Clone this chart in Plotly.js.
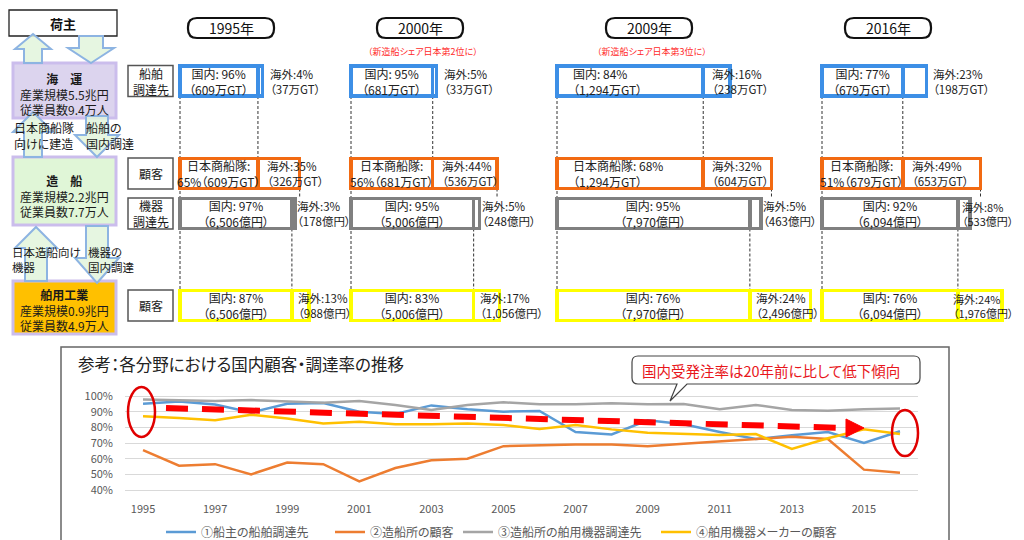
<!DOCTYPE html>
<html><head><meta charset="utf-8">
<script src="https://cdn.plot.ly/plotly-3.0.1.min.js"></script>
<style>html,body{margin:0;padding:0;background:#fff}#chart{width:1024px;height:540px}
svg text{font-feature-settings:"palt" 1;}</style>
</head><body><div id="chart"></div>
<script>
// ================= DATA =================
const yearLabels = ['1995年', '2000年', '2009年', '2016年'];
const shareNotes = ['', '（新造船シェア日本第2位に）', '（新造船シェア日本第3位に）', ''];
const rowLabels = ['船舶<br>調達先', '顧客', '機器<br>調達先', '顧客'];

// 船主の船舶調達先 (万GT)
const shipProcDomGT = [609, 681, 1294, 679];
const shipProcOvsGT = [37, 33, 238, 198];
const shipProcDomPct = [96, 95, 84, 77];
const shipProcOvsPct = [4, 5, 16, 23];
// 造船所の顧客 (万GT)
const yardCustDomGT = [609, 681, 1294, 679];
const yardCustOvsGT = [326, 536, 604, 653];
const yardCustDomPct = [65, 56, 68, 51];
const yardCustOvsPct = [35, 44, 32, 49];
// 造船所の舶用機器調達先 (億円)
const equipProcDomOku = [6506, 5006, 7970, 6094];
const equipProcOvsOku = [178, 248, 463, 533];
const equipProcDomPct = [97, 95, 95, 92];
const equipProcOvsPct = [3, 5, 5, 8];
// 舶用機器メーカーの顧客 (億円)
const makerCustDomOku = [6506, 5006, 7970, 6094];
const makerCustOvsOku = [988, 1056, 2496, 1976];
const makerCustDomPct = [87, 83, 76, 76];
const makerCustOvsPct = [13, 17, 24, 24];

// 左側の業界
const sectorNames = ['海　運', '造　船', '舶用工業'];
const sectorScale = ['産業規模5.5兆円', '産業規模2.2兆円', '産業規模0.9兆円'];
const sectorStaff = ['従業員数9.4万人', '従業員数7.7万人', '従業員数4.9万人'];

// 参考：推移グラフ
const trendYears = [1995, 1996, 1997, 1998, 1999, 2000, 2001, 2002, 2003, 2004, 2005, 2006, 2007, 2008, 2009, 2010, 2011, 2012, 2013, 2014, 2015, 2016];
const seriesNames = ['①船主の船舶調達先', '②造船所の顧客', '③造船所の舶用機器調達先', '④舶用機器メーカーの顧客'];
const ownerShipProc = [95, 96.5, 94.5, 89.5, 95, 95.5, 90, 88.5, 94, 91.5, 90, 90.5, 77, 75.5, 84.5, 82, 77, 72.5, 75, 77, 70, 77.5];
const yardCustomer = [65.5, 55.5, 56.5, 50, 57.5, 56.5, 45.5, 54, 59, 60, 68, 68.5, 69, 69, 68, 69.5, 71, 72.5, 74, 72.5, 53, 51];
const yardEquipProc = [97.8, 97.4, 96.8, 97.4, 96.4, 95.7, 96.8, 94.3, 91, 94.3, 96, 94.7, 94.7, 95.3, 94.7, 94.9, 91.5, 94.3, 91.1, 90.6, 91.5, 92];
const makerCustomer = [87, 86, 84.5, 88, 85.7, 82.5, 83.5, 82, 82, 82.5, 81.5, 79, 81.5, 78.7, 76.6, 75.7, 75.1, 75.7, 66.2, 73, 78.7, 75.7];
const yTicks = [40, 50, 60, 70, 80, 90, 100];
const xTicks = [1995, 1997, 1999, 2001, 2003, 2005, 2007, 2009, 2011, 2013, 2015];
const calloutText = '国内受発注率は20年前に比して低下傾向';
const chartTitle = '参考：各分野における国内顧客・調達率の推移';

// ================= LAYOUT CONFIG =================
const W = 1024, H = 540;
const px = v => v / W, py = v => 1 - v / H;
const FONT = '"Noto Sans CJK JP", "Noto Sans", sans-serif';
const colX0 = [180, 351, 557, 822];                // column left edges (px)
const gtScale = [0.128, 0.12, 0.113, 0.119];       // px per 万GT
const okuScale = [0.0172, 0.0245, 0.0242, 0.0223]; // px per 億円
const rowY = [81, 173.5, 213.5, 305.5];            // row centres (px)
const rowH = 30;
const rowColors = ['#3d8fe6', '#f26a12', '#808080', '#ffff00'];
const headerCX = [231, 420, 649, 888];
const lineColors = ['#5b9bd5', '#ed7d31', '#a5a5a5', '#ffc000'];
const legendTextX = [203, 372, 500, 698];
const rightLimit = 1015;

const fmt = n => n.toLocaleString('en-US');
function P(x, y) { return px(x).toFixed(5) + ',' + py(y).toFixed(5); }
function polyPath(pts) { return 'M' + pts.map(p => P(p[0], p[1])).join('L') + 'Z'; }
function roundRectPath(x0, y0, x1, y1, r) {
  return 'M' + P(x0 + r, y0) + 'L' + P(x1 - r, y0) + 'Q' + P(x1, y0) + ' ' + P(x1, y0 + r) +
    'L' + P(x1, y1 - r) + 'Q' + P(x1, y1) + ' ' + P(x1 - r, y1) +
    'L' + P(x0 + r, y1) + 'Q' + P(x0, y1) + ' ' + P(x0, y1 - r) +
    'L' + P(x0, y0 + r) + 'Q' + P(x0, y0) + ' ' + P(x0 + r, y0) + 'Z';
}
function upArrow(cx, top, bottom, hw, sw, hh) {
  return polyPath([[cx, top], [cx + hw / 2, top + hh], [cx + sw / 2, top + hh], [cx + sw / 2, bottom], [cx - sw / 2, bottom], [cx - sw / 2, top + hh], [cx - hw / 2, top + hh]]);
}
function downArrow(cx, top, bottom, hw, sw, hh) {
  return polyPath([[cx, bottom], [cx + hw / 2, bottom - hh], [cx + sw / 2, bottom - hh], [cx + sw / 2, top], [cx - sw / 2, top], [cx - sw / 2, bottom - hh], [cx - hw / 2, bottom - hh]]);
}

const traces = [];
const shapes = [];
const annotations = [];
const layout = {
  width: W, height: H, margin: {l: 0, r: 0, t: 0, b: 0, autoexpand: false},
  paper_bgcolor: '#ffffff', plot_bgcolor: 'rgba(0,0,0,0)',
  font: {family: FONT, size: 12, color: '#222'},
  barmode: 'stack', showlegend: true,
  yaxis2: {domain: [0, 1], range: [H, 0], visible: false, anchor: 'x2', fixedrange: true},
};
function txt(x, y, text, opt) {
  annotations.push(Object.assign({xref: 'paper', yref: 'paper', x: px(x), y: py(y), text: text, showarrow: false,
    xanchor: 'center', yanchor: 'middle', font: {family: FONT, size: 12, color: '#1a1a1a'}}, opt || {}));
}

// ---------- Left panel ----------
shapes.push({type: 'rect', xref: 'paper', yref: 'paper', x0: px(9), x1: px(117), y0: py(10), y1: py(36), line: {color: '#222', width: 1.3}, fillcolor: '#fff'});
const sectorBoxes = [[63, 118, '#dcd4ee'], [157, 225, '#e0f6d7'], [281, 334, '#ffc000']];
sectorBoxes.forEach((b, i) => {
  shapes.push({type: 'rect', xref: 'paper', yref: 'paper', x0: px(13), x1: px(116), y0: py(b[0]), y1: py(b[1]), line: {color: '#cbbdec', width: 3}, fillcolor: b[2]});
});
const arrowStyle = {type: 'path', xref: 'paper', yref: 'paper', fillcolor: 'rgba(226,245,220,0.85)', line: {color: '#8db4e2', width: 2}};
[upArrow(33, 34, 63, 36, 18, 15), downArrow(91, 36, 63, 46, 24, 15),
 upArrow(33, 112, 157, 40, 18, 20), downArrow(97, 116, 157, 44, 22, 22),
 upArrow(36, 227, 281, 42, 22, 21), downArrow(97, 226, 283, 44, 22, 25)].forEach(p => shapes.push(Object.assign({path: p}, arrowStyle)));

txt(63, 23, '<b>荷主</b>', {font: {family: FONT, size: 13, color: '#111'}});
const sectorMidY = [94, 196, 310];
sectorNames.forEach((n, i) => {
  txt(64, sectorMidY[i], '<b>' + n + '</b><br>' + sectorScale[i] + '<br>' + sectorStaff[i]);
});
txt(12, 136, '日本商船隊<br>向けに建造', {xanchor: 'left', align: 'left'});
txt(84, 136, '船舶の<br>国内調達', {xanchor: 'left', align: 'left'});
txt(10, 260, '日本造船向け<br>機器', {xanchor: 'left', align: 'left', font: {family: FONT, size: 11.5, color: '#1a1a1a'}});
txt(86, 260, '機器の<br>国内調達', {xanchor: 'left', align: 'left', font: {family: FONT, size: 11.5, color: '#1a1a1a'}});

// ---------- Row label boxes ----------
rowLabels.forEach((lab, r) => {
  shapes.push({type: 'rect', xref: 'paper', yref: 'paper', x0: px(128), x1: px(173), y0: py(rowY[r] - 15.5), y1: py(rowY[r] + 15.5), line: {color: '#555', width: 1.5}, fillcolor: '#fff'});
  txt(150.5, rowY[r], lab, {font: {family: FONT, size: 12, color: '#1a1a1a'}});
});

// ---------- Year columns ----------
yearLabels.forEach((yl, i) => {
  shapes.push({type: 'path', xref: 'paper', yref: 'paper', path: roundRectPath(headerCX[i] - 43, 18, headerCX[i] + 43, 38, 9), line: {color: '#111', width: 2.2}, fillcolor: '#fff'});
  txt(headerCX[i], 28, yl, {font: {family: FONT, size: 14, color: '#111'}});
  if (shareNotes[i]) txt(headerCX[i] + 3, 51, shareNotes[i], {font: {family: FONT, size: 9, color: '#ff2a2a'}});

  const gtAx = 'x' + (2 + i), okuAx = 'x' + (6 + i);
  const x0 = colX0[i];
  const left = x0 - 6, right = Math.min(x0 + 280, W - 1);
  layout['xaxis' + (2 + i)] = {domain: [px(left), px(right)], range: [(left - x0) / gtScale[i], (right - x0) / gtScale[i]], anchor: 'y2', visible: false, fixedrange: true};
  layout['xaxis' + (6 + i)] = {domain: [px(left), px(right)], range: [(left - x0) / okuScale[i], (right - x0) / okuScale[i]], anchor: 'y2', visible: false, fixedrange: true};

  const barBase = {type: 'bar', orientation: 'h', yaxis: 'y2', showlegend: false, hoverinfo: 'skip', width: [rowH, rowH]};
  traces.push(Object.assign({}, barBase, {xaxis: gtAx, x: [shipProcDomGT[i], yardCustDomGT[i]], y: [rowY[0], rowY[1]],
    marker: {color: '#fff', line: {color: [rowColors[0], rowColors[1]], width: 3.5}}}));
  traces.push(Object.assign({}, barBase, {xaxis: gtAx, x: [shipProcOvsGT[i], yardCustOvsGT[i]], y: [rowY[0], rowY[1]],
    marker: {color: '#fff', line: {color: [rowColors[0], rowColors[1]], width: 3.5}}}));
  traces.push(Object.assign({}, barBase, {xaxis: okuAx, x: [equipProcDomOku[i], makerCustDomOku[i]], y: [rowY[2], rowY[3]],
    marker: {color: '#fff', line: {color: [rowColors[2], rowColors[3]], width: 3.5}}}));
  traces.push(Object.assign({}, barBase, {xaxis: okuAx, x: [equipProcOvsOku[i], makerCustOvsOku[i]], y: [rowY[2], rowY[3]],
    marker: {color: '#fff', line: {color: [rowColors[2], rowColors[3]], width: 3.5}}}));

  // dashed connectors
  const dash = {type: 'line', yref: 'y2', line: {color: '#333', width: 1, dash: '3px,2px'}, layer: 'below'};
  shapes.push(Object.assign({xref: gtAx, x0: 0, x1: 0, y0: rowY[0] + 15, y1: rowY[3] - 15}, dash));
  shapes.push(Object.assign({xref: gtAx, x0: shipProcDomGT[i], x1: yardCustDomGT[i], y0: rowY[0] + 15, y1: rowY[1] - 15}, dash));
  shapes.push(Object.assign({xref: gtAx, x0: yardCustDomGT[i] + yardCustOvsGT[i], x1: yardCustDomGT[i] + yardCustOvsGT[i], y0: rowY[1] + 15, y1: rowY[2] - 15}, dash));
  shapes.push(Object.assign({xref: okuAx, x0: equipProcDomOku[i], x1: makerCustDomOku[i], y0: rowY[2] + 15, y1: rowY[3] - 15}, dash));

  // labels
  const rows = [
    {ax: gtAx, s: gtScale[i], dom: shipProcDomGT[i], ovs: shipProcOvsGT[i], dp: shipProcDomPct[i], op: shipProcOvsPct[i], unit: '万GT', kind: 'dom'},
    {ax: gtAx, s: gtScale[i], dom: yardCustDomGT[i], ovs: yardCustOvsGT[i], dp: yardCustDomPct[i], op: yardCustOvsPct[i], unit: '万GT', kind: 'fleet'},
    {ax: okuAx, s: okuScale[i], dom: equipProcDomOku[i], ovs: equipProcOvsOku[i], dp: equipProcDomPct[i], op: equipProcOvsPct[i], unit: '億円', kind: 'dom'},
    {ax: okuAx, s: okuScale[i], dom: makerCustDomOku[i], ovs: makerCustOvsOku[i], dp: makerCustDomPct[i], op: makerCustOvsPct[i], unit: '億円', kind: 'dom'},
  ];
  const afterShift = [5, 0, 0, 0];
  const divShift = [7, 7, 6, 4];
  rows.forEach((r, k) => {
    const domW = r.dom * r.s, ovsW = r.ovs * r.s;
    const wide = k < 2 && domW > 120;
    let dtext;
    if (r.kind === 'fleet') {
      dtext = wide ? '日本商船隊: ' + r.dp + '%<br>（' + fmt(r.dom) + r.unit + '）'
                   : '日本商船隊:<br>' + r.dp + '%（' + fmt(r.dom) + r.unit + '）';
    } else {
      dtext = '国内: ' + r.dp + '%<br>（' + fmt(r.dom) + r.unit + '）';
    }
    annotations.push({xref: r.ax, yref: 'y2', x: wide ? 0 : r.dom / 2, y: rowY[k], xshift: wide ? 14 : 0,
      xanchor: wide ? 'left' : 'center', align: wide ? 'left' : 'center', yanchor: 'middle', text: dtext, showarrow: false,
      font: {family: FONT, size: 12, color: '#222'}});
    const ovText = '海外:' + r.op + '%<br>（' + fmt(r.ovs) + r.unit + '）';
    const after = (k === 0 || k === 2) && ovsW < 26;
    const startPx = x0 + (after ? domW + ovsW + afterShift[k] : domW + divShift[k]);
    if (k >= 2 && startPx + 58 > rightLimit) {
      // keep the label inside the picture: right-align it near the edge
      annotations.push({xref: 'paper', yref: 'y2', x: px(rightLimit), y: rowY[k], xanchor: 'right', align: 'left', yanchor: 'middle',
        text: ovText, showarrow: false, font: {family: FONT, size: 11, color: '#222'}});
    } else {
      annotations.push({xref: r.ax, yref: 'y2', x: after ? r.dom + r.ovs : r.dom, y: rowY[k], xshift: after ? afterShift[k] : divShift[k],
        xanchor: 'left', align: 'left', yanchor: 'middle', text: ovText, showarrow: false, font: {family: FONT, size: 11.5, color: '#222'}});
    }
  });
});

// ---------- Bottom chart ----------
shapes.push({type: 'rect', xref: 'paper', yref: 'paper', x0: px(61), x1: px(949), y0: py(347), y1: py(542), line: {color: '#666', width: 1.5}, fillcolor: 'rgba(0,0,0,0)', layer: 'below'});
txt(76, 364, chartTitle, {xanchor: 'left', font: {family: FONT, size: 16.5, color: '#222'}});

layout.xaxis = {domain: [px(125), px(918)], range: [1994.5, 2016.5], anchor: 'y', tickmode: 'array', tickvals: xTicks,
  ticktext: xTicks.map(String), showgrid: false, zeroline: false, showline: false, ticks: '', ticklabelstandoff: 9,
  tickfont: {family: FONT, size: 11, color: '#595959'}, fixedrange: true};
const pxPerPct = 94 / 60;
layout.yaxis = {domain: [py(490 + pxPerPct), py(396 - pxPerPct)], range: [39, 101], anchor: 'x', tickmode: 'array', tickvals: yTicks,
  ticktext: yTicks.map(v => v + '%'), showgrid: true, gridcolor: '#d9d9d9', gridwidth: 1, zeroline: false, showline: false, ticks: '',
  ticklabelstandoff: 11, tickfont: {family: FONT, size: 11, color: '#595959'}, fixedrange: true};

const series = [ownerShipProc, yardCustomer, yardEquipProc, makerCustomer];
series.forEach((s, k) => {
  const key = k === 0 ? 'legend' : 'legend' + (k + 1);
  traces.push({type: 'scatter', mode: 'lines', x: trendYears, y: s, name: seriesNames[k], xaxis: 'x', yaxis: 'y',
    line: {color: lineColors[k], width: 2.5}, hoverinfo: 'skip', legend: key});
  layout[key] = {x: px(legendTextX[k] - 42), xanchor: 'left', y: py(532), yanchor: 'middle', orientation: 'h', bgcolor: 'rgba(0,0,0,0)',
    borderwidth: 0, font: {family: FONT, size: 12, color: '#595959'}, itemwidth: 30};
});

// red trend arrow
shapes.push({type: 'line', xref: 'paper', yref: 'paper', x0: px(166), y0: py(408), x1: px(846), y1: py(428), line: {color: '#ff0000', width: 6, dash: '22px,14px'}});
shapes.push({type: 'path', xref: 'paper', yref: 'paper', path: polyPath([[846, 419], [864, 428], [846, 437]]), fillcolor: '#ff0000', line: {color: '#ff0000', width: 1}});
// ellipses
shapes.push({type: 'circle', xref: 'paper', yref: 'paper', x0: px(128), x1: px(155), y0: py(387), y1: py(437), line: {color: '#e00000', width: 2.5}});
shapes.push({type: 'circle', xref: 'paper', yref: 'paper', x0: px(892), x1: px(918), y0: py(410), y1: py(456), line: {color: '#e00000', width: 2.5}});
// callout
(function () {
  const x0 = 632, y0 = 356, x1 = 920, y1 = 384, r = 6;
  const path = 'M' + P(x0 + r, y0) + 'L' + P(x1 - r, y0) + 'Q' + P(x1, y0) + ' ' + P(x1, y0 + r) +
    'L' + P(x1, y1 - r) + 'Q' + P(x1, y1) + ' ' + P(x1 - r, y1) +
    'L' + P(687, y1) + 'L' + P(670, 401) + 'L' + P(677, y1) +
    'L' + P(x0 + r, y1) + 'Q' + P(x0, y1) + ' ' + P(x0, y1 - r) +
    'L' + P(x0, y0 + r) + 'Q' + P(x0, y0) + ' ' + P(x0 + r, y0) + 'Z';
  shapes.push({type: 'path', xref: 'paper', yref: 'paper', path: path, fillcolor: '#fff', line: {color: '#444', width: 1.2}});
})();
txt(771, 370, calloutText, {font: {family: FONT, size: 14.5, color: '#e8161b'}});

layout.shapes = shapes;
layout.annotations = annotations;
Plotly.newPlot('chart', traces, layout, {staticPlot: true, displayModeBar: false});
</script>
</body></html>
